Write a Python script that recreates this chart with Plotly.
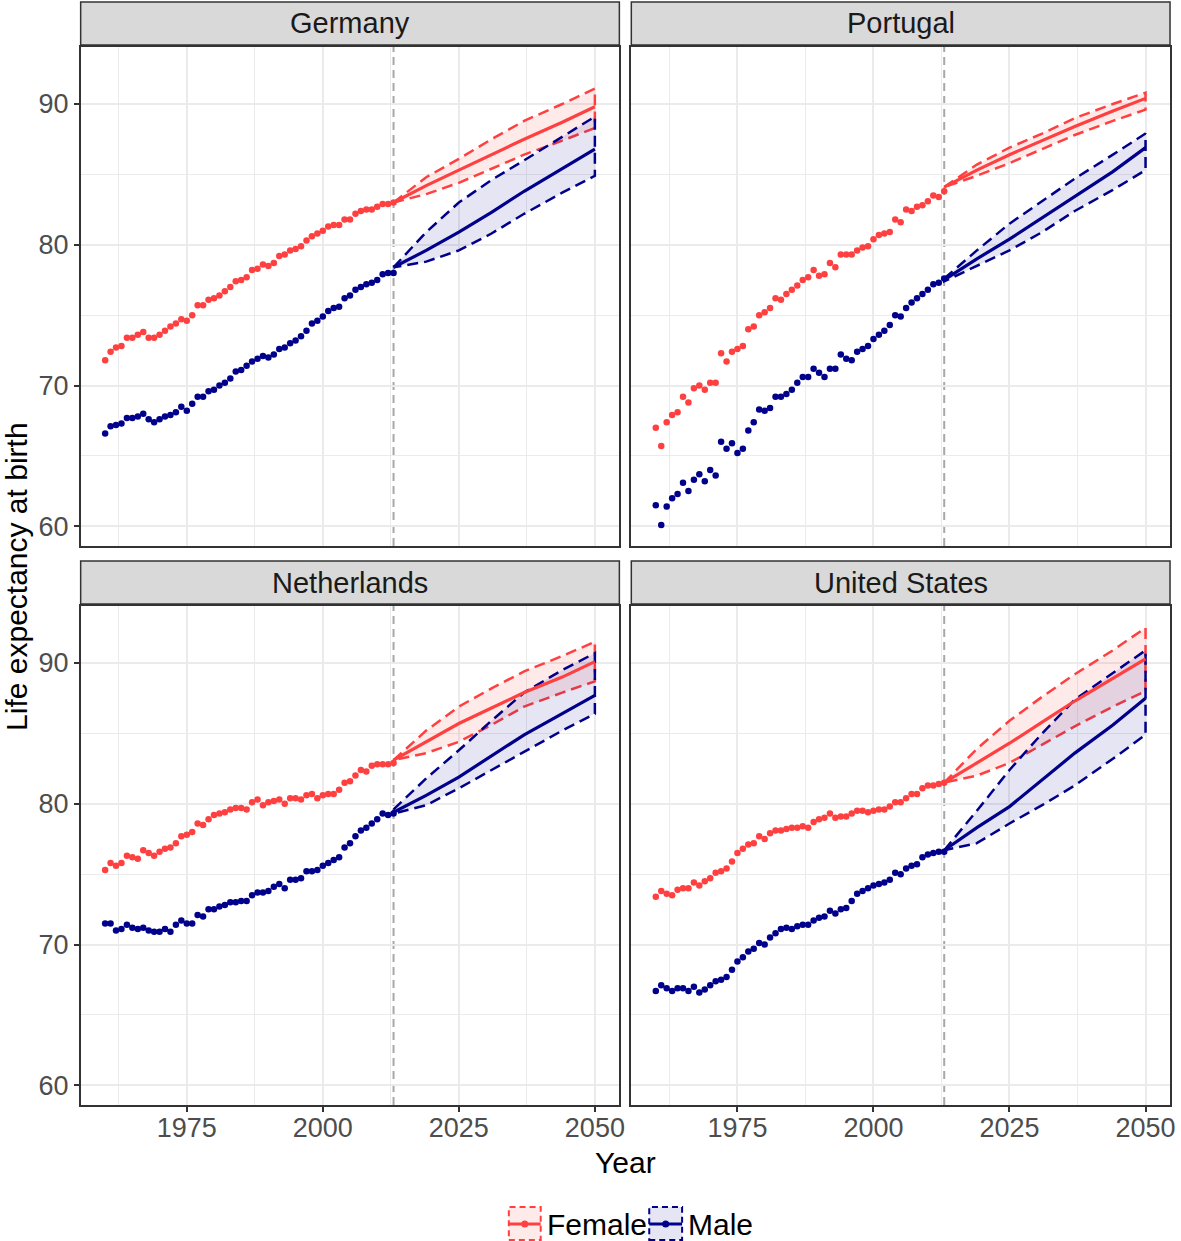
import plotly.graph_objects as go

# ---------------- data ----------------
years_obs = list(range(1960, 2014))
years_fc = [2013, 2019, 2025, 2031, 2037, 2044, 2050]
forecast_start = 2013

countries = ["Germany", "Portugal", "Netherlands", "United States"]
sexes = ["Female", "Male"]

x_ticks = [1975, 2000, 2025, 2050]
y_ticks = [60, 70, 80, 90]

germany_female = [71.8, 72.4, 72.7, 72.8, 73.4, 73.4, 73.6, 73.8, 73.4, 73.4,
                  73.6, 73.9, 74.2, 74.4, 74.7, 74.6, 75.0, 75.7, 75.7, 76.1,
                  76.2, 76.4, 76.7, 77.0, 77.4, 77.5, 77.7, 78.2, 78.3, 78.6,
                  78.5, 78.7, 79.2, 79.3, 79.6, 79.7, 79.9, 80.3, 80.6, 80.8,
                  81.0, 81.3, 81.4, 81.4, 81.8, 81.8, 82.2, 82.4, 82.5, 82.5,
                  82.7, 82.9, 82.9, 83.0]
germany_male = [66.6, 67.1, 67.2, 67.3, 67.7, 67.7, 67.8, 68.0, 67.6, 67.4,
                67.6, 67.8, 67.9, 68.1, 68.5, 68.2, 68.7, 69.2, 69.2, 69.6,
                69.7, 70.0, 70.2, 70.5, 71.0, 71.1, 71.4, 71.7, 71.9, 72.1,
                72.0, 72.2, 72.6, 72.7, 73.0, 73.2, 73.5, 73.9, 74.4, 74.6,
                74.9, 75.3, 75.5, 75.6, 76.2, 76.4, 76.8, 77.0, 77.2, 77.3,
                77.5, 77.9, 78.0, 78.0]
portugal_female = [67.0, 65.7, 67.4, 67.9, 68.1, 69.2, 68.8, 69.8, 70.0, 69.7,
                   70.2, 70.2, 72.3, 71.7, 72.4, 72.6, 72.8, 74.0, 74.2, 75.0,
                   75.2, 75.5, 76.2, 76.1, 76.5, 76.8, 77.1, 77.5, 77.7, 78.2,
                   77.8, 77.9, 78.7, 78.4, 79.3, 79.3, 79.3, 79.6, 79.8, 79.9,
                   80.4, 80.7, 80.8, 80.9, 81.8, 81.6, 82.5, 82.4, 82.7, 82.8,
                   83.1, 83.5, 83.4, 83.8]
portugal_male = [61.5, 60.1, 61.4, 62.0, 62.3, 63.1, 62.5, 63.3, 63.7, 63.2,
                 64.0, 63.6, 66.0, 65.5, 65.9, 65.2, 65.5, 66.8, 67.4, 68.3,
                 68.2, 68.4, 69.2, 69.2, 69.4, 69.7, 70.2, 70.6, 70.6, 71.2,
                 70.9, 70.6, 71.2, 71.2, 72.2, 71.9, 71.8, 72.4, 72.6, 72.8,
                 73.3, 73.6, 73.9, 74.3, 75.0, 74.9, 75.5, 75.9, 76.2, 76.5,
                 76.8, 77.2, 77.3, 77.6]
netherlands_female = [75.3, 75.8, 75.6, 75.8, 76.3, 76.2, 76.1, 76.7, 76.5, 76.3,
                      76.6, 76.8, 76.9, 77.2, 77.7, 77.8, 78.0, 78.6, 78.5, 78.9,
                      79.2, 79.3, 79.4, 79.6, 79.7, 79.7, 79.6, 80.1, 80.3, 79.9,
                      80.1, 80.2, 80.3, 80.0, 80.4, 80.4, 80.3, 80.6, 80.7, 80.4,
                      80.6, 80.7, 80.7, 81.0, 81.5, 81.6, 82.0, 82.4, 82.3, 82.7,
                      82.8, 82.8, 82.8, 82.9]
netherlands_male = [71.5, 71.5, 71.0, 71.1, 71.4, 71.2, 71.1, 71.2, 71.0, 70.9,
                    70.9, 71.1, 70.9, 71.4, 71.7, 71.5, 71.5, 72.1, 72.0, 72.5,
                    72.5, 72.7, 72.8, 73.0, 73.0, 73.1, 73.1, 73.5, 73.7, 73.7,
                    73.8, 74.1, 74.3, 74.0, 74.6, 74.6, 74.7, 75.2, 75.2, 75.3,
                    75.6, 75.8, 76.0, 76.2, 76.9, 77.2, 77.7, 78.1, 78.3, 78.6,
                    78.9, 79.3, 79.2, 79.3]
us_female = [73.4, 73.8, 73.6, 73.5, 73.9, 74.0, 74.0, 74.4, 74.2, 74.5,
             74.7, 75.1, 75.2, 75.4, 75.9, 76.5, 76.8, 77.1, 77.2, 77.7,
             77.5, 77.9, 78.1, 78.1, 78.2, 78.3, 78.3, 78.4, 78.3, 78.7,
             78.9, 79.0, 79.3, 79.0, 79.1, 79.1, 79.3, 79.5, 79.5, 79.4,
             79.5, 79.6, 79.6, 79.8, 80.1, 80.1, 80.4, 80.7, 80.7, 81.1,
             81.3, 81.3, 81.4, 81.5]
us_male = [66.7, 67.1, 66.9, 66.7, 66.9, 66.9, 66.7, 67.0, 66.6, 66.8,
           67.1, 67.4, 67.5, 67.7, 68.2, 68.8, 69.1, 69.5, 69.7, 70.1,
           70.0, 70.5, 70.8, 71.1, 71.2, 71.1, 71.3, 71.4, 71.4, 71.7,
           71.9, 72.0, 72.4, 72.2, 72.5, 72.6, 73.1, 73.6, 73.8, 74.0,
           74.2, 74.3, 74.4, 74.6, 75.1, 75.0, 75.4, 75.6, 75.7, 76.2,
           76.4, 76.5, 76.6, 76.6]

# forecasts (central, upper, lower) at years_fc
germany_female_fc = [83.0, 84.2, 85.3, 86.4, 87.5, 88.7, 89.8]
germany_female_hi = [83.0, 84.8, 86.1, 87.5, 88.8, 90.0, 91.1]
germany_female_lo = [83.0, 83.6, 84.4, 85.4, 86.4, 87.4, 88.3]
germany_male_fc = [78.4, 79.6, 80.9, 82.3, 83.8, 85.4, 86.8]
germany_male_hi = [78.4, 80.9, 83.0, 84.6, 86.0, 87.7, 89.1]
germany_male_lo = [78.4, 78.8, 79.6, 80.8, 82.2, 83.7, 84.9]

portugal_female_fc = [84.1, 85.3, 86.4, 87.4, 88.4, 89.5, 90.4]
portugal_female_hi = [84.1, 85.7, 86.9, 87.9, 89.0, 90.0, 90.8]
portugal_female_lo = [84.1, 84.9, 85.8, 86.8, 87.8, 88.8, 89.6]
portugal_male_fc = [77.5, 79.0, 80.4, 81.9, 83.4, 85.2, 86.9]
portugal_male_hi = [77.6, 79.6, 81.5, 83.1, 84.7, 86.4, 87.9]
portugal_male_lo = [77.4, 78.5, 79.6, 80.9, 82.4, 83.9, 85.3]

netherlands_female_fc = [83.1, 84.4, 85.7, 86.8, 87.9, 89.0, 90.1]
netherlands_female_hi = [83.1, 85.2, 86.9, 88.2, 89.4, 90.5, 91.5]
netherlands_female_lo = [83.1, 83.6, 84.4, 85.6, 86.9, 87.9, 88.7]
netherlands_male_fc = [79.4, 80.6, 81.9, 83.4, 84.9, 86.4, 87.7]
netherlands_male_hi = [79.6, 81.8, 83.8, 85.9, 87.9, 89.5, 90.7]
netherlands_male_lo = [79.3, 79.9, 81.1, 82.4, 83.7, 85.2, 86.4]

us_female_fc = [81.5, 82.9, 84.3, 85.8, 87.3, 88.9, 90.3]
us_female_hi = [81.5, 83.9, 85.9, 87.6, 89.2, 90.9, 92.5]
us_female_lo = [81.5, 82.0, 82.9, 84.2, 85.5, 86.9, 88.0]
us_male_fc = [76.7, 78.3, 79.8, 81.7, 83.6, 85.6, 87.5]
us_male_hi = [76.7, 79.5, 82.4, 85.0, 87.4, 89.3, 90.9]
us_male_lo = [76.7, 77.2, 78.6, 79.9, 81.3, 83.2, 84.9]

# ---------------- assemble ----------------
obs = {
    "Germany": (germany_female, germany_male),
    "Portugal": (portugal_female, portugal_male),
    "Netherlands": (netherlands_female, netherlands_male),
    "United States": (us_female, us_male),
}
fc = {
    "Germany": ((germany_female_fc, germany_female_hi, germany_female_lo),
                (germany_male_fc, germany_male_hi, germany_male_lo)),
    "Portugal": ((portugal_female_fc, portugal_female_hi, portugal_female_lo),
                 (portugal_male_fc, portugal_male_hi, portugal_male_lo)),
    "Netherlands": ((netherlands_female_fc, netherlands_female_hi, netherlands_female_lo),
                    (netherlands_male_fc, netherlands_male_hi, netherlands_male_lo)),
    "United States": ((us_female_fc, us_female_hi, us_female_lo),
                      (us_male_fc, us_male_hi, us_male_lo)),
}

W, H = 1181, 1241
colors = {"Female": "#FF4040", "Male": "#00008B"}
fills = {"Female": "rgba(255,64,64,0.11)", "Male": "rgba(0,0,139,0.10)"}
FONT = "Liberation Sans, Arial, Helvetica, sans-serif"


def px_x(p):
    return p / W


def px_y(p):
    return 1 - p / H


panel_x = [(81, 622), (634, 1175)]
panel_y = [(47, 546), (606, 1105)]
strip_y = [(2, 45), (561, 604)]

fig = go.Figure()
shapes = []
annotations = []

for i, country in enumerate(countries):
    r, c = divmod(i, 2)
    k = i + 1
    xa = "x" if k == 1 else f"x{k}"
    ya = "y" if k == 1 else f"y{k}"

    # ribbons
    for s, sex in enumerate(sexes):
        cen, hi, lo = fc[country][s]
        px = years_fc + years_fc[::-1] + [years_fc[0]]
        py = hi + lo[::-1] + [hi[0]]
        fig.add_trace(go.Scatter(
            x=px, y=py, mode="lines", fill="toself", fillcolor=fills[sex],
            line=dict(color=colors[sex], width=2.5, dash="11px,6px"),
            xaxis=xa, yaxis=ya, showlegend=False, hoverinfo="skip"))
    # central forecast lines
    for s, sex in enumerate(sexes):
        cen, hi, lo = fc[country][s]
        fig.add_trace(go.Scatter(
            x=years_fc, y=cen, mode="lines",
            line=dict(color=colors[sex], width=3.2),
            xaxis=xa, yaxis=ya, showlegend=False))
    # observed points
    for s, sex in enumerate(sexes):
        fig.add_trace(go.Scatter(
            x=years_obs, y=obs[country][s], mode="markers",
            marker=dict(color=colors[sex], size=6.5, line=dict(width=0)),
            xaxis=xa, yaxis=ya, showlegend=False))

    x0, x1 = panel_x[c]
    y0, y1 = panel_y[r]
    axis_common = dict(showline=True, mirror=True, linecolor="#333333", linewidth=1.5,
                       zeroline=False, gridcolor="#EBEBEB", gridwidth=1.6,
                       tickfont=dict(family=FONT, size=27, color="#4D4D4D"),
                       ticklen=5, tickwidth=1.5, tickcolor="#333333")
    fig.update_layout(**{
        ("xaxis" if k == 1 else f"xaxis{k}"): dict(
            domain=[px_x(x0), px_x(x1)], range=[1955.5, 2054.5],
            tickvals=x_ticks, showticklabels=(r == 1),
            ticks="outside" if r == 1 else "",
            ticklabelstandoff=-7,
            minor=dict(tickvals=[1962.5, 1987.5, 2012.5, 2037.5], showgrid=True,
                       gridcolor="#EBEBEB", gridwidth=1.3, ticks=""),
            anchor=ya, **axis_common),
        ("yaxis" if k == 1 else f"yaxis{k}"): dict(
            domain=[px_y(y1), px_y(y0)], range=[58.6, 94.05],
            tickvals=y_ticks, showticklabels=(c == 0),
            ticks="outside" if c == 0 else "",
            minor=dict(tickvals=[65, 75, 85], showgrid=True,
                       gridcolor="#EBEBEB", gridwidth=1.3, ticks=""),
            anchor=xa, **axis_common),
    })

    # forecast start line
    shapes.append(dict(type="line", xref=xa, yref=f"{ya} domain",
                       x0=forecast_start, x1=forecast_start, y0=0, y1=1,
                       line=dict(color="#A8A8A8", width=2, dash="8px,5px"),
                       layer="below"))
    # strip
    sy0, sy1 = strip_y[r]
    shapes.append(dict(type="rect", xref="paper", yref="paper",
                       x0=px_x(x0), x1=px_x(x1), y0=px_y(sy1), y1=px_y(sy0),
                       fillcolor="#D9D9D9", line=dict(color="#333333", width=1.5)))
    annotations.append(dict(text=country, xref="paper", yref="paper",
                            x=px_x((x0 + x1) / 2), y=px_y((sy0 + sy1) / 2),
                            showarrow=False, xanchor="center", yanchor="middle",
                            font=dict(family=FONT, size=29, color="#1A1A1A")))

# axis titles
annotations.append(dict(text="Year", xref="paper", yref="paper",
                        x=px_x(628), y=px_y(1162), showarrow=False,
                        xanchor="center", yanchor="middle",
                        font=dict(family=FONT, size=30, color="black")))
annotations.append(dict(text="Life expectancy at birth", xref="paper", yref="paper",
                        x=px_x(16), y=px_y(576), showarrow=False, textangle=-90,
                        xanchor="center", yanchor="middle",
                        font=dict(family=FONT, size=30, color="black")))

# legend (drawn manually to mimic ggplot keys)
legend_keys = [("Female", 511, 543, 547), ("Male", 652, 685, 689)]
for sex, bx0, bx1, tx in legend_keys:
    shapes.append(dict(type="rect", xref="paper", yref="paper",
                       x0=px_x(bx0), x1=px_x(bx1), y0=px_y(1240), y1=px_y(1207),
                       fillcolor=fills[sex],
                       line=dict(color=colors[sex], width=2, dash="6px,4px")))
    shapes.append(dict(type="line", xref="paper", yref="paper",
                       x0=px_x(bx0), x1=px_x(bx1), y0=px_y(1224), y1=px_y(1224),
                       line=dict(color=colors[sex], width=3)))
    cx = (bx0 + bx1) / 2
    shapes.append(dict(type="circle", xref="paper", yref="paper",
                       x0=px_x(cx - 3.5), x1=px_x(cx + 3.5),
                       y0=px_y(1227.5), y1=px_y(1220.5),
                       fillcolor=colors[sex], line=dict(width=0)))
    annotations.append(dict(text=sex, xref="paper", yref="paper",
                            x=px_x(tx), y=px_y(1224), showarrow=False,
                            xanchor="left", yanchor="middle",
                            font=dict(family=FONT, size=30, color="black")))

fig.update_layout(width=W, height=H, margin=dict(l=0, r=0, t=0, b=0),
                  paper_bgcolor="white", plot_bgcolor="white",
                  showlegend=False, shapes=shapes, annotations=annotations,
                  font=dict(family=FONT))

fig.write_html("out.html",
               config={"displayModeBar": False},
               post_script="document.body.style.margin='0px';"
                           "document.body.style.padding='0px';"
                           "document.body.style.overflow='hidden';")
